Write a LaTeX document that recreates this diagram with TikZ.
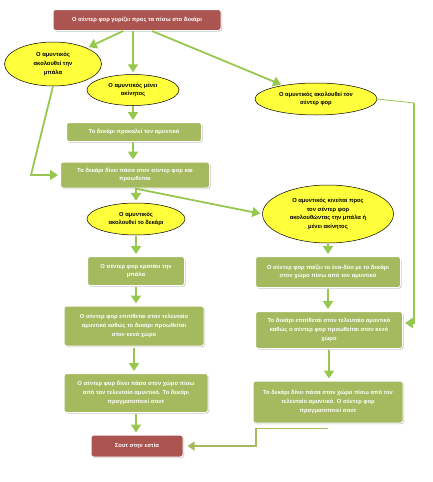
\documentclass[tikz,border=0pt]{standalone}
\usepackage{fontspec}
\setmainfont{Liberation Sans}
\usepackage{xcolor}
\usetikzlibrary{shapes.geometric,arrows.meta,shadows}

\definecolor{boxgreen}{RGB}{165,185,95}
\definecolor{boxred}{RGB}{172,85,80}
\definecolor{bubbleyellow}{RGB}{255,255,60}
\definecolor{arrowgreen}{RGB}{150,200,80}

\begin{document}
\begin{tikzpicture}[x=1pt,y=-1pt,
  txt/.style={font=\fontsize{5.8}{8.8}\selectfont\bfseries, align=center},
  gbox/.style={txt, rectangle, rounded corners=2.5pt, fill=boxgreen, draw=white, line width=1pt, text=white, inner sep=1pt,
    drop shadow={shadow xshift=1pt, shadow yshift=-1pt, fill=black!40, opacity=0.6}},
  rbox/.style={gbox, fill=boxred},
  bubble/.style={txt, ellipse, fill=bubbleyellow, draw=black, line width=0.5pt, inner sep=0pt},
  arr/.style={draw=arrowgreen, line width=1.8pt, -{Triangle[width=10pt,length=8pt]}, shorten >=2pt}
]
\useasboundingbox (0,0) rectangle (432,482);

% Start
\node[rbox, minimum width=168, minimum height=21] (turn) at (137,20) {Ο σέντερ φορ γυρίζει προς τα πίσω στο δεκάρι};

% What the defender does
\node[bubble, minimum width=97, minimum height=44] (ball) at (53,64) {Ο αμυντικός\\ακολουθεί την\\μπάλα};
\node[bubble, minimum width=92, minimum height=31] (still) at (133,90) {Ο αμυντικός μένει\\ακίνητος};
\node[bubble, minimum width=122, minimum height=32] (follow) at (316,99) {Ο αμυντικός ακολουθεί τον\\σέντερ φορ};

\node[gbox, minimum width=135, minimum height=19] (provoke) at (134,132) {Το δεκάρι προκαλεί τον αμυντικό};
\node[gbox, minimum width=149, minimum height=26] (give) at (135,175) {Το δεκάρι δίνει πάσα στον σέντερ φορ και\\προωθείται};

% Left column
\node[bubble, minimum width=98, minimum height=32] (tracks) at (136,219) {Ο αμυντικός\\ακολουθεί το δεκάρι};
\node[gbox, minimum width=97, minimum height=29] (hold) at (136,271) {Ο σέντερ φορ κρατάει την\\μπάλα};
\node[gbox, minimum width=140, minimum height=40] (cfatt) at (134,326) {Ο σέντερ φορ επιτίθεται στον τελευταίο\\αμυντικό καθώς το δεκάρι προωθείται\\στον κενό χώρο};
\node[gbox, minimum width=144, minimum height=39] (cfpass) at (136,393) {Ο σέντερ φορ δίνει πάσα στον χώρο πίσω\\από τον τελευταίο αμυντικό. Το δεκάρι\\πραγματοποιεί σουτ};
\node[rbox, minimum width=92, minimum height=22] (shot) at (137,446) {Σουτ στην εστία};

% Right column
\node[bubble, minimum width=131, minimum height=58] (moves) at (328,214) {Ο αμυντικός κινείται προς\\τον σέντερ φορ\\ακολουθώντας την μπάλα ή\\μένει ακίνητος};
\node[gbox, minimum width=145, minimum height=31] (onetwo) at (328,272) {Ο σέντερ φορ παίζει το ένα-δύο με το δεκάρι\\στον χώρο πίσω από τον αμυντικό};
\node[gbox, minimum width=147, minimum height=37] (tenatt) at (329,330) {Το δεκάρι επιτίθεται στον τελευταίο αμυντικό\\καθώς ο σέντερ φορ προωθείται στον κενό\\χώρο};
\node[gbox, minimum width=150, minimum height=42] (tenpass) at (328,402) {Το δεκάρι δίνει πάσα στον χώρο πίσω από τον\\τελευταίο αμυντικό. Ο σέντερ φορ\\πραγματοποιεί σουτ};

% Arrows
\draw[arr] ([xshift=-14pt]turn.south) -- (ball);
\draw[arr] (turn.south -| still.north) -- (still.north);
\draw[arr] ([xshift=15pt]turn.south) -- (follow);
\draw[arr] (still.south) -- (still.south |- provoke.north);
\draw[arr] (provoke.south -| still.south) -- (still.south |- give.north);
\draw[arr] (ball.south) -- ([xshift=-29pt]give.west) -- (give.west);
\draw[arr] (give.south) -- (moves.west);
\draw[arr] (give.south -| tracks.north) -- (tracks.north);
\foreach \from/\to in {tracks/hold,hold/cfatt,cfatt/cfpass,cfpass/shot,moves/onetwo,onetwo/tenatt,tenatt/tenpass}{
  \draw[arr] ([yshift=-1pt]\from.south) -- (\from.south |- \to.north);
}
\draw[arrowgreen, line width=0.8pt] (follow.east) -- ++(37,4) coordinate (rturn);
\draw[arr] ([yshift=0.4pt]rturn) |- ([yshift=7pt]tenatt.east);
\draw[arr, draw=boxgreen, line width=1.3pt, -{Triangle[width=9pt,length=7pt]}, shorten >=4pt]
  ([yshift=-5pt]tenpass.south) -- ++(-72,0) |- (shot.east);

\end{tikzpicture}
\end{document}
